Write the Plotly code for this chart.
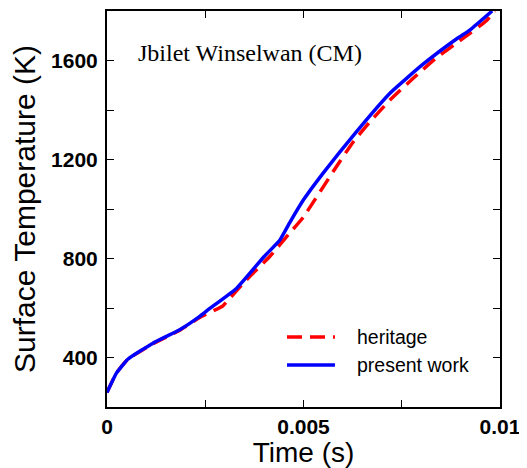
import plotly.graph_objects as go

# present work (blue)
t_present = [0.0, 0.00024, 0.00053, 0.00117, 0.00185, 0.00236, 0.0026, 0.0033, 0.0040,
             0.0044, 0.00465, 0.005, 0.0055, 0.00635, 0.0072, 0.00805, 0.0089, 0.00924, 0.0098]
T_present = [259, 337, 393, 458, 512, 566, 596, 680, 808,
             875, 945, 1037, 1145, 1313, 1468, 1586, 1688, 1724, 1800]

# heritage (red dashed)
t_heritage = [0.0, 0.00024, 0.00053, 0.00117, 0.00185, 0.00236, 0.00295, 0.0031, 0.00355,
              0.00414, 0.00465, 0.00499, 0.00584, 0.00626, 0.00669, 0.0072, 0.00779, 0.00839,
              0.00898, 0.00966, 0.00987]
T_heritage = [259, 337, 393, 456, 510, 562, 609, 635, 714,
              808, 903, 966, 1172, 1270, 1352, 1440, 1528, 1612,
              1680, 1762, 1800]

series_names = ["heritage", "present work"]
x_ticks = [0, 0.005, 0.01]
x_ticklabels = ["0", "0.005", "0.01"]
y_ticks = [400, 800, 1200, 1600]

RED = "#ff0000"
BLUE = "#0000ff"
DASH = "15px,8px"
FONT = "Liberation Sans, Arial"

fig = go.Figure()
fig.add_trace(go.Scatter(x=t_heritage, y=T_heritage, mode="lines", name=series_names[0],
                         line=dict(color=RED, width=3.5, dash=DASH, shape="spline", smoothing=0.4)))
fig.add_trace(go.Scatter(x=t_present, y=T_present, mode="lines", name=series_names[1],
                         line=dict(color=BLUE, width=3.5, shape="spline", smoothing=0.4)))

axis_common = dict(showline=True, linecolor="black", linewidth=2, mirror="allticks",
                   ticks="inside", ticklen=7, tickwidth=1, tickcolor="black",
                   showgrid=False, zeroline=False, automargin=False,
                   tickfont=dict(family=FONT, size=21, color="black", weight="bold"))

fig.update_xaxes(range=[0, 0.01], tickvals=x_ticks, ticktext=x_ticklabels,
                 minor=dict(dtick=0.0025, ticks="inside", ticklen=7, tickcolor="black", showgrid=False),
                 ticklabelstandoff=0,
                 title=dict(text="Time (s)", standoff=2, font=dict(family=FONT, size=28, color="black")),
                 **axis_common)
fig.update_yaxes(range=[200, 1800], tickvals=y_ticks,
                 minor=dict(dtick=200, ticks="inside", ticklen=7, tickcolor="black", showgrid=False),
                 ticklabelstandoff=3,
                 title=dict(text="Surface Temperature (K)", standoff=12, font=dict(family=FONT, size=30, color="black")),
                 **axis_common)

fig.add_annotation(text="Jbilet Winselwan (CM)", xref="paper", yref="paper",
                   x=0.075, y=0.894, xanchor="left", yanchor="middle", showarrow=False,
                   font=dict(family="Liberation Serif, Times New Roman", size=24, color="black"))

# legend drawn in paper coordinates
leg_rows = [(0.177, RED, DASH), (0.106, BLUE, "solid")]
for name, (yy, col, dsh) in zip(series_names, leg_rows):
    fig.add_shape(type="line", xref="paper", yref="paper", x0=0.458, x1=0.580, y0=yy, y1=yy,
                  line=dict(color=col, width=3.5, dash=dsh))
    fig.add_annotation(text=name, xref="paper", yref="paper", x=0.631, y=yy,
                       xanchor="left", yanchor="middle", showarrow=False,
                       font=dict(family=FONT, size=19.5, color="black"))

# page body has an 8px margin: shrink figure so plot area lands at the reference position
fig.update_layout(width=519, height=460, margin=dict(l=99, r=27, t=3, b=61),
                  plot_bgcolor="white", paper_bgcolor="white",
                  showlegend=False)

fig.write_html("out.html")
